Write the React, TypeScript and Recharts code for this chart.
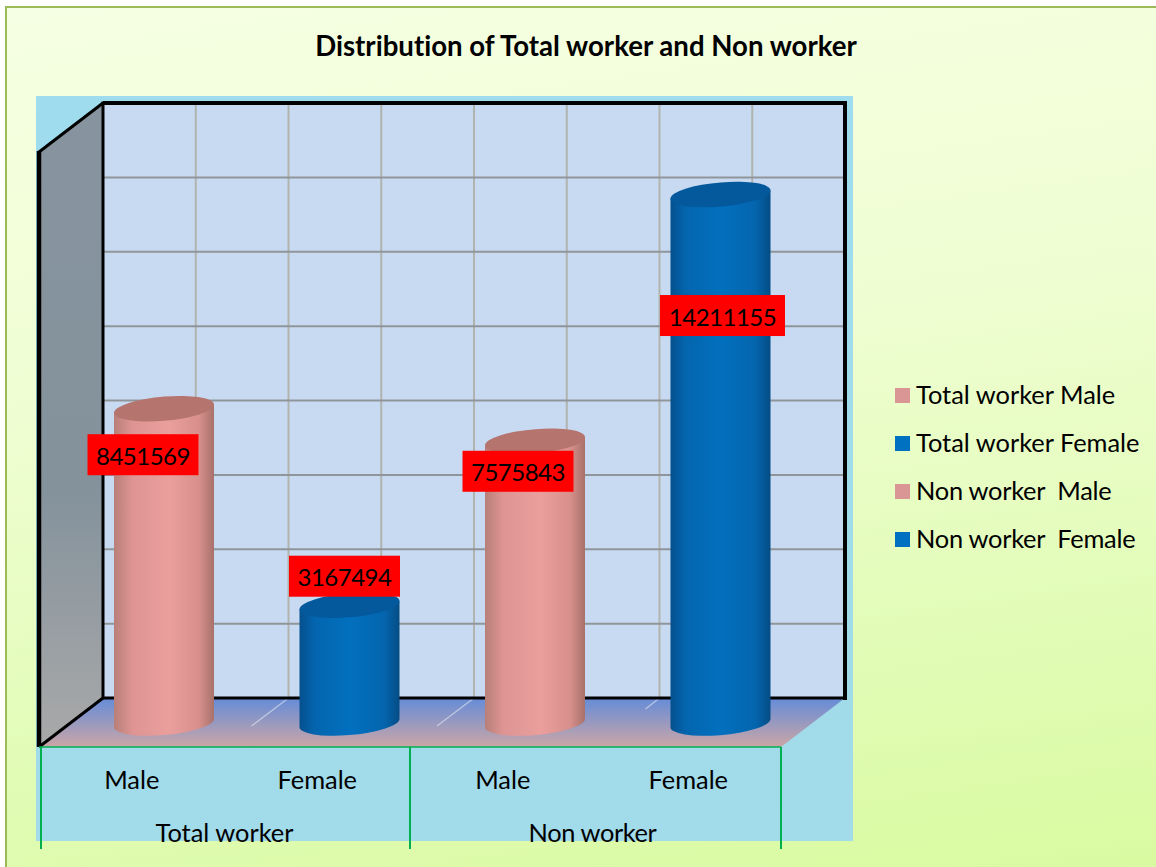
import React from 'react';
import { BarChart, Bar, XAxis, YAxis, CartesianGrid, Legend, LabelList, usePlotArea } from 'recharts';

const categories = ['Male', 'Female', 'Male', 'Female'];
const groups = ['Total worker', 'Non worker'];
const values = [8451569, 3167494, 7575843, 14211155];
const legendNames = ['Total worker Male', 'Total worker Female', 'Non worker  Male', 'Non worker  Female'];
const yTicks = [0, 2000000, 4000000, 6000000, 8000000, 10000000, 12000000, 14000000, 16000000];
const kinds = ['pink', 'blue', 'pink', 'blue'];

const data = categories.map((category, i) => ({ category, value: values[i], kind: kinds[i], name: legendNames[i] }));

const FONT = 'Lato, sans-serif';
const NO_LIGA: React.CSSProperties = { fontVariantLigatures: 'none' };
const DEPTH_X = 64;
const DEPTH_Y = 49;
const BAR_DX = -32;
const BAR_DY = 25;
const RY = 12;
const TILT = 4;

// hand placed data labels in the original, offset from the top of each cylinder
const labelNudge = [
  { dx: -21, dy: 46 },
  { dx: -5, dy: -29 },
  { dx: -17, dy: 30 },
  { dx: 2, dy: 121 },
];

const swatch: Record<string, string> = { pink: '#d99694', blue: '#0070c0' };
const topFace: Record<string, string> = { pink: '#b5746d', blue: '#04599c' };

const Cylinder = (props: any) => {
  const { x, y, width, height, payload } = props;
  const left = x + BAR_DX;
  const right = left + width;
  const rx = width / 2;
  const top = y + BAR_DY;
  const bottom = y + height + BAR_DY;
  const rot = -TILT - 1;
  return (
    <g>
      <path
        d={`M${left},${top + TILT} L${left},${bottom + TILT} A${rx},${RY} ${rot} 0 0 ${right},${bottom - TILT} L${right},${top - TILT} Z`}
        fill={`url(#body-${payload.kind})`}
      />
      <path
        d={`M${left},${top + TILT} A${rx},${RY} ${rot} 1 1 ${right},${top - TILT} A${rx},${RY} ${rot} 1 1 ${left},${top + TILT} Z`}
        fill={topFace[payload.kind]}
      />
    </g>
  );
};

const ValueLabel = (props: any) => {
  const { x, y, width, value, index } = props;
  const cx = x + width / 2 + BAR_DX + labelNudge[index].dx;
  const cy = y + BAR_DY + labelNudge[index].dy;
  const w = String(value).length > 7 ? 125 : 111;
  return (
    <g>
      <rect x={cx - w / 2} y={cy - 20.5} width={w} height={41} fill="#ff0000" />
      <text x={cx} y={cy + 10} textAnchor="middle" fontFamily={FONT} fontSize={24} letterSpacing={-0.5} fill="#000">
        {value}
      </text>
    </g>
  );
};

const Walls = () => {
  const plot = usePlotArea();
  if (!plot) return null;
  const { x, y, width, height } = plot;
  const r = x + width;
  const b = y + height;
  const fx = x - DEPTH_X;
  const fb = b + DEPTH_Y;
  const step = width / 8;
  return (
    <g>
      <defs>
        <linearGradient id="floor" x1="0" y1="0" x2="0" y2="1">
          <stop offset="0" stopColor="#658cd8" />
          <stop offset="1" stopColor="#cba6a6" />
        </linearGradient>
        <linearGradient id="sideWall" x1="0" y1="0" x2="0" y2="1">
          <stop offset="0" stopColor="#87949f" />
          <stop offset="0.6" stopColor="#84929c" />
          <stop offset="1" stopColor="#a9a9a9" />
        </linearGradient>
        <linearGradient id="body-pink" x1="0" y1="0" x2="1" y2="0">
          <stop offset="0" stopColor="#b87f79" />
          <stop offset="0.18" stopColor="#dd9492" />
          <stop offset="0.55" stopColor="#ea9f9d" />
          <stop offset="0.85" stopColor="#d8908c" />
          <stop offset="1" stopColor="#a8716b" />
        </linearGradient>
        <linearGradient id="body-blue" x1="0" y1="0" x2="1" y2="0">
          <stop offset="0" stopColor="#05508e" />
          <stop offset="0.15" stopColor="#0465ae" />
          <stop offset="0.5" stopColor="#0270be" />
          <stop offset="0.85" stopColor="#0465ae" />
          <stop offset="1" stopColor="#054c84" />
        </linearGradient>
      </defs>
      <polygon points={`${fx},${y + DEPTH_Y} ${x},${y} ${x},${b} ${fx},${fb}`} fill="url(#sideWall)" />
      <polygon points={`${fx},${fb} ${x},${b} ${r},${b} ${r - DEPTH_X},${fb}`} fill="url(#floor)" />
      {[2, 4, 6].map((n) => (
        <line
          key={n}
          x1={x + step * n}
          y1={b}
          x2={x + step * n - (n === 6 ? 14 : 37)}
          y2={b + (n === 6 ? 11 : 28)}
          stroke="#dfe6f2"
          strokeOpacity={0.6}
          strokeWidth={1.5}
        />
      ))}
      <path d={`M${x},${b} H${r} V${y} H${x} Z`} fill="none" stroke="#000" strokeWidth={3} />
      <line x1={r} y1={y - 2} x2={r} y2={b + 2} stroke="#000" strokeWidth={4} />
      <line x1={x} y1={y} x2={r} y2={y} stroke="#000" strokeWidth={4} />
      <line x1={fx} y1={y + DEPTH_Y} x2={x} y2={y} stroke="#000" strokeWidth={3} />
      <line x1={fx} y1={fb} x2={x} y2={b} stroke="#000" strokeWidth={3} />
      <line x1={fx} y1={y + DEPTH_Y - 1} x2={fx} y2={fb} stroke="#000" strokeWidth={4.5} />
      <line x1={fx} y1={fb} x2={r - DEPTH_X} y2={fb} stroke="#00b050" strokeWidth={1.5} />
    </g>
  );
};

const AxisTick = (props: any) => {
  const { x, y, index, payload } = props;
  const step = 742 / 4;
  const fx = x - DEPTH_X;
  const base = y;
  const sepX = fx - step / 2 + (index === 0 ? 2 : 0);
  return (
    <g>
      <text x={fx} y={base + 2} textAnchor="middle" fontFamily={FONT} fontSize={25.4} fill="#000" style={NO_LIGA}>
        {payload.value}
      </text>
      {index % 2 === 0 && (
        <>
          <text
            x={fx + step / 2 - (index ? 3 : 0)}
            y={base + 55}
            textAnchor="middle"
            fontFamily={FONT}
            fontSize={25.4}
            letterSpacing={index ? -0.4 : 0}
            fill="#000"
            style={NO_LIGA}
          >
            {groups[index / 2]}
          </text>
          <line x1={sepX} y1={base - 40} x2={sepX} y2={base + 62} stroke="#00b050" strokeWidth={2} />
        </>
      )}
      {index === categories.length - 1 && (
        <line x1={fx + step / 2} y1={base - 40} x2={fx + step / 2} y2={base + 62} stroke="#00b050" strokeWidth={2} />
      )}
    </g>
  );
};

const LegendList = () => (
  <div style={{ fontFamily: FONT, fontSize: 25.4, color: '#000', ...NO_LIGA }}>
    {data.map((d) => (
      <div
        key={d.name}
        style={{
          display: 'flex',
          alignItems: 'center',
          height: 48,
          whiteSpace: 'pre',
          letterSpacing: d.name.includes('  ') ? -0.25 : 0,
        }}
      >
        <span style={{ width: 15, height: 15, background: swatch[d.kind], marginRight: 6 }} />
        <span style={{ position: 'relative', top: -1 }}>{d.name}</span>
      </div>
    ))}
  </div>
);

export default function App() {
  return (
    <div
      style={{
        position: 'absolute',
        left: 0,
        top: 0,
        width: 1156,
        height: 867,
        overflow: 'hidden',
        background: '#fff',
      }}
    >
      <div
        style={{
          position: 'absolute',
          left: 5,
          top: 6,
          width: 1160,
          height: 870,
          boxSizing: 'border-box',
          border: '2px solid #9bbb59',
          background: 'linear-gradient(172deg, #f5ffe3 0%, #effed2 40%, #e2fcb8 72%, #d9faa0 100%)',
        }}
      />
      <div
        style={{
          position: 'absolute',
          left: 36,
          top: 96,
          width: 817,
          height: 745,
          background: 'linear-gradient(180deg, #9edcee 0%, #a2dbe9 100%)',
        }}
      />
      <BarChart
        width={1156}
        height={867}
        data={data}
        margin={{ top: 103, right: 311, bottom: 0, left: 103 }}
        style={{ position: 'absolute', left: 0, top: 0 }}
      >
        <CartesianGrid
          stroke="#b1b3ae"
          strokeWidth={2}
          fill="#c8daf2"
          horizontal={false}
          verticalCoordinatesGenerator={({ offset }: any) =>
            [1, 2, 3, 4, 5, 6, 7].map((n) => offset.left + (offset.width * n) / 8)
          }
        />
        <CartesianGrid stroke="#90959a" strokeWidth={2} vertical={false} />
        <Walls />
        <text x={586} y={56} textAnchor="middle" fontFamily={FONT} fontWeight={700} fontSize={27.6} fill="#000" style={NO_LIGA}>
          Distribution of Total worker and Non worker
        </text>
        <XAxis dataKey="category" axisLine={false} tickLine={false} tick={<AxisTick />} height={169} tickMargin={83} interval={0} />
        <YAxis hide domain={[0, 16000000]} ticks={yTicks} />
        <Legend
          layout="vertical"
          align="center"
          verticalAlign="middle"
          content={<LegendList />}
          wrapperStyle={{ left: 895, top: 371, width: 261 }}
        />
        <Bar dataKey="value" barSize={100} shape={<Cylinder />} isAnimationActive={false}>
          <LabelList dataKey="value" content={<ValueLabel />} />
        </Bar>
      </BarChart>
    </div>
  );
}
